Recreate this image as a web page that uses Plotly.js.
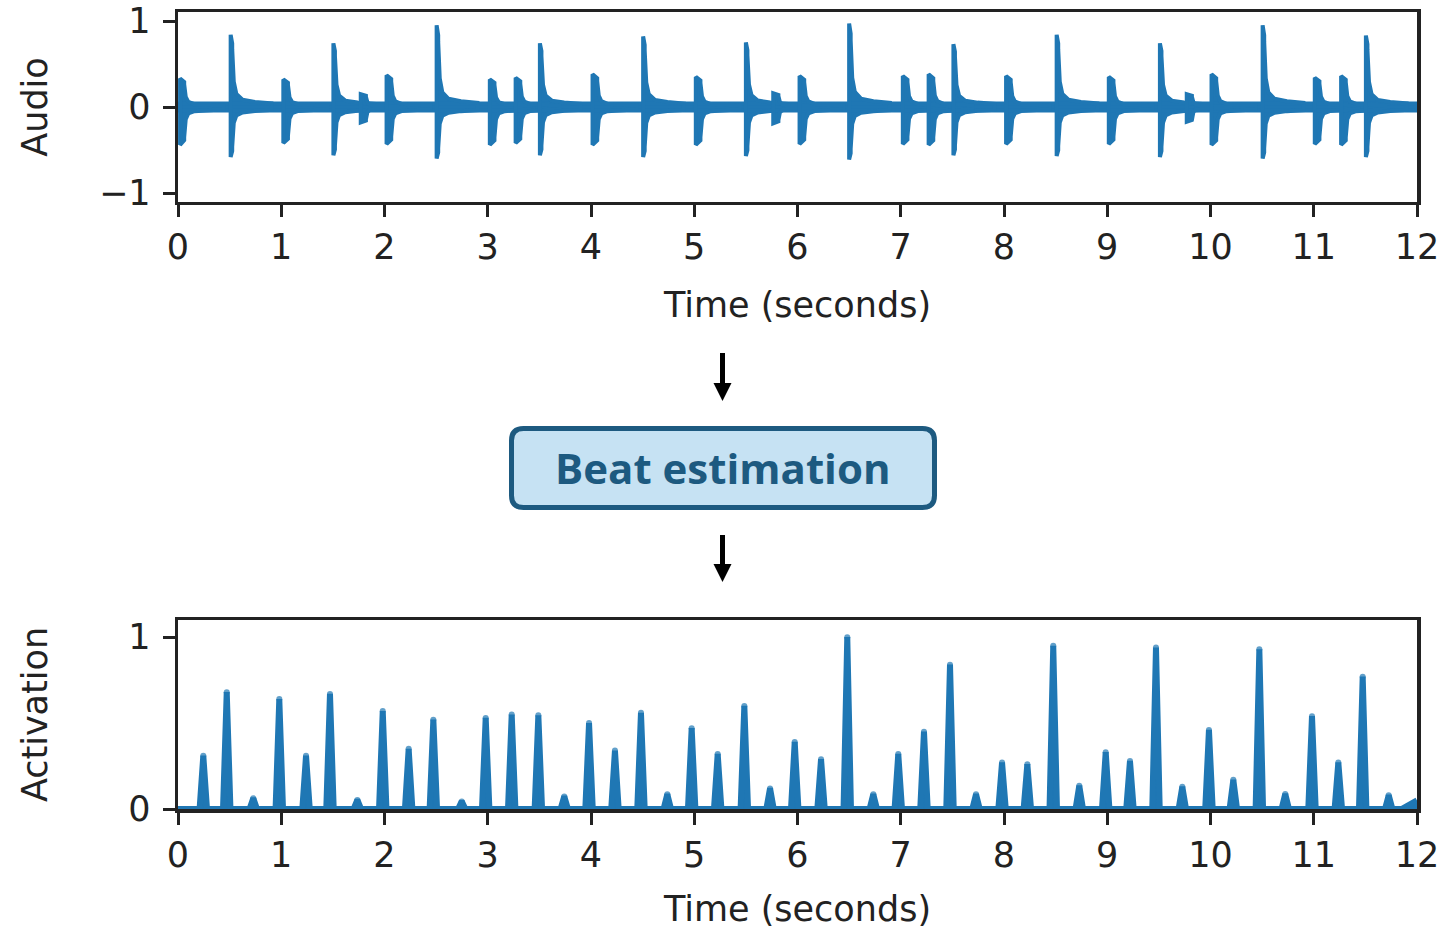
<!DOCTYPE html>
<html>
<head>
<meta charset="utf-8">
<script src="https://cdn.plot.ly/plotly-3.0.1.min.js"></script>
<style>
  html, body { margin: 0; padding: 0; background: #ffffff; }
  #chart { width: 1448px; height: 929px; }
</style>
</head>
<body>
<div id="chart"></div>
<script>
// ---- Audio: drum hits (onset time in s, positive and negative peak amplitude, sustain in s) ----
const onsetTime = [0.02, 0.51, 1.02, 1.505, 1.77, 2.02, 2.505, 3.02, 3.27, 3.505,
                   4.015, 4.505, 5.015, 5.50, 5.765, 6.02, 6.50, 7.02, 7.27, 7.51,
                   8.02, 8.51, 9.015, 9.51, 9.77, 10.01, 10.505, 11.01, 11.265, 11.505];
const peakPos   = [0.33, 0.84, 0.32, 0.74, 0.15, 0.37, 0.95, 0.32, 0.34, 0.74,
                   0.38, 0.82, 0.35, 0.75, 0.16, 0.36, 0.97, 0.36, 0.38, 0.73,
                   0.36, 0.84, 0.35, 0.74, 0.15, 0.38, 0.95, 0.34, 0.36, 0.83];
const peakNeg   = [-0.44, -0.58, -0.42, -0.56, -0.18, -0.43, -0.60, -0.44, -0.42, -0.56,
                   -0.44, -0.58, -0.44, -0.57, -0.19, -0.43, -0.61, -0.43, -0.44, -0.56,
                   -0.43, -0.57, -0.43, -0.58, -0.17, -0.44, -0.60, -0.43, -0.44, -0.58];
const sustain   = [0.04, 0.015, 0.045, 0.015, 0.05, 0.045, 0.015, 0.045, 0.045, 0.015,
                   0.045, 0.015, 0.045, 0.015, 0.05, 0.045, 0.015, 0.045, 0.045, 0.015,
                   0.045, 0.015, 0.045, 0.015, 0.05, 0.045, 0.015, 0.045, 0.045, 0.015];
// level held through the sustain, relative to the peak
const sustainLevel = 0.88;
// decay after the sustain: lag (s) and level relative to the hit's peak
const tailLag  = [0, 0.015, 0.04, 0.10, 0.22, 0.38];
const tailUp   = [0.8, 0.35, 0.18, 0.10, 0.07, 0.05];
const tailDown = [0.8, 0.32, 0.17, 0.11, 0.08, 0.06];
// background level of the recording between hits
const noiseFloor = 0.04;

// ---- Activation: beat-activation peaks (time in s, height) ----
const beatTime = [0.245, 0.472, 0.729, 0.981, 1.240, 1.472, 1.737, 1.983, 2.234, 2.473,
                  2.748, 2.980, 3.232, 3.490, 3.741, 3.981, 4.232, 4.484, 4.739, 4.975,
                  5.227, 5.485, 5.734, 5.973, 6.228, 6.482, 6.734, 6.976, 7.225, 7.477,
                  7.729, 7.981, 8.226, 8.477, 8.729, 8.985, 9.220, 9.472, 9.727, 9.985,
                  10.221, 10.473, 10.724, 10.983, 11.238, 11.474, 11.726];
const beatAct  = [0.31, 0.68, 0.063, 0.64, 0.31, 0.67, 0.053, 0.57, 0.35, 0.52,
                  0.044, 0.53, 0.55, 0.545, 0.073, 0.50, 0.34, 0.56, 0.086, 0.47,
                  0.32, 0.60, 0.12, 0.39, 0.29, 1.00, 0.086, 0.32, 0.45, 0.84,
                  0.086, 0.27, 0.26, 0.95, 0.135, 0.33, 0.28, 0.94, 0.13, 0.46,
                  0.17, 0.93, 0.088, 0.54, 0.27, 0.77, 0.08];
const actEndTime = [11.85, 12.0];
const actEndVal  = [0, 0.05];
const peakHalfWidth = 0.036;

const xTicks = [0, 1, 2, 3, 4, 5, 6, 7, 8, 9, 10, 11, 12];
const audioTicks = [-1, 0, 1];
const audioTickText = ['\u22121', '0', '1'];
const actTicks = [0, 1];

// ---- waveform outline: a band for the floor plus one polygon per hit ----
const wx = [0, 12, 12, 0, 0, null];
const wy = [noiseFloor, noiseFloor, -noiseFloor, -noiseFloor, noiseFloor, null];
onsetTime.forEach((t, i) => {
  const s = t + sustain[i];
  const up = [[t, peakPos[i]], [s, peakPos[i] * sustainLevel]]
    .concat(tailLag.map((l, k) => [s + l, peakPos[i] * tailUp[k]]));
  const dn = [[t, peakNeg[i]], [s, peakNeg[i] * sustainLevel]]
    .concat(tailLag.map((l, k) => [s + l, peakNeg[i] * tailDown[k]])).reverse();
  wx.push(t); wy.push(0);
  up.forEach(p => { wx.push(p[0]); wy.push(p[1]); });
  dn.forEach(p => { wx.push(p[0]); wy.push(p[1]); });
  wx.push(t); wy.push(0);
  wx.push(null); wy.push(null);
});

// ---- activation curve from its peaks; a round cap marks each crest ----
const ax = [0], ay = [0], capSize = [0];
beatTime.forEach((t, i) => {
  ax.push(t - peakHalfWidth, t, t + peakHalfWidth);
  ay.push(0, beatAct[i], 0);
  capSize.push(0, 6, 0);
});
actEndTime.forEach((t, i) => { ax.push(t); ay.push(actEndVal[i]); capSize.push(0); });

const BLUE = '#1f77b4';
const INK = '#222222';
const FONT = 'DejaVu Sans';

const traces = [
  {
    x: wx, y: wy, xaxis: 'x', yaxis: 'y', type: 'scatter', mode: 'lines',
    fill: 'toself', fillcolor: BLUE, connectgaps: false,
    line: { color: BLUE, width: 4, shape: 'linear' }, hoverinfo: 'skip'
  },
  {
    x: ax, y: ay, xaxis: 'x2', yaxis: 'y2', type: 'scatter', mode: 'lines+markers',
    fill: 'tozeroy', fillcolor: BLUE,
    line: { color: BLUE, width: 6, shape: 'linear' },
    marker: { color: BLUE, size: capSize, line: { width: 0 } },
    hoverinfo: 'skip'
  }
];

const W = 1448, H = 929;
const fx = p => p / W;
const fy = p => 1 - p / H;

function axisCommon() {
  return {
    showline: true, linecolor: INK, linewidth: 3.5, mirror: true,
    ticks: 'outside', ticklen: 12, tickwidth: 3, tickcolor: INK,
    showgrid: false, zeroline: false,
    tickfont: { family: FONT, size: 35, color: INK },
    fixedrange: true
  };
}

// rounded rectangle path in paper units
function roundRect(x0, y0, x1, y1, r) {
  const X = v => fx(v).toFixed(5), Y = v => fy(v).toFixed(5);
  return 'M' + X(x0 + r) + ',' + Y(y0) +
    ' L' + X(x1 - r) + ',' + Y(y0) +
    ' Q' + X(x1) + ',' + Y(y0) + ' ' + X(x1) + ',' + Y(y0 + r) +
    ' L' + X(x1) + ',' + Y(y1 - r) +
    ' Q' + X(x1) + ',' + Y(y1) + ' ' + X(x1 - r) + ',' + Y(y1) +
    ' L' + X(x0 + r) + ',' + Y(y1) +
    ' Q' + X(x0) + ',' + Y(y1) + ' ' + X(x0) + ',' + Y(y1 - r) +
    ' L' + X(x0) + ',' + Y(y0 + r) +
    ' Q' + X(x0) + ',' + Y(y0) + ' ' + X(x0 + r) + ',' + Y(y0) + ' Z';
}
function arrowHead(cx, yTop, yTip, half) {
  return 'M' + fx(cx - half) + ',' + fy(yTop) + ' L' + fx(cx + half) + ',' + fy(yTop) +
         ' L' + fx(cx) + ',' + fy(yTip) + ' Z';
}

const shapes = [
  { type: 'line', xref: 'paper', yref: 'paper', x0: fx(722.5), x1: fx(722.5), y0: fy(353), y1: fy(386),
    line: { color: '#000000', width: 5 } },
  { type: 'path', xref: 'paper', yref: 'paper', path: arrowHead(722.5, 383, 401, 9),
    fillcolor: '#000000', line: { width: 0 } },
  { type: 'line', xref: 'paper', yref: 'paper', x0: fx(722.5), x1: fx(722.5), y0: fy(535), y1: fy(567),
    line: { color: '#000000', width: 5 } },
  { type: 'path', xref: 'paper', yref: 'paper', path: arrowHead(722.5, 564, 582, 9),
    fillcolor: '#000000', line: { width: 0 } },
  { type: 'path', xref: 'paper', yref: 'paper', path: roundRect(511.5, 428.5, 934.5, 507.5, 12),
    fillcolor: '#c6e2f3', line: { color: '#1d5a80', width: 5 } }
];

const layout = {
  width: W, height: H,
  margin: { l: 0, r: 0, t: 0, b: 0 },
  paper_bgcolor: '#ffffff', plot_bgcolor: '#ffffff',
  showlegend: false,
  font: { family: FONT, color: INK },
  xaxis: Object.assign(axisCommon(), {
    domain: [fx(178), fx(1417)], range: [0, 12], anchor: 'y',
    tickvals: xTicks, ticktext: xTicks.map(String),
    title: { text: 'Time (seconds)', font: { family: FONT, size: 35, color: INK }, standoff: 27 }
  }),
  yaxis: Object.assign(axisCommon(), {
    domain: [fy(201.6), fy(12.4)], range: [-1.1, 1.1], anchor: 'x',
    tickvals: audioTicks, ticktext: audioTickText, ticklabelstandoff: 5,
    title: { text: 'Audio', font: { family: FONT, size: 35, color: INK }, standoff: 41 }
  }),
  xaxis2: Object.assign(axisCommon(), {
    domain: [fx(178), fx(1417)], range: [0, 12], anchor: 'y2',
    tickvals: xTicks, ticktext: xTicks.map(String),
    title: { text: 'Time (seconds)', font: { family: FONT, size: 35, color: INK }, standoff: 25 }
  }),
  yaxis2: Object.assign(axisCommon(), {
    domain: [fy(809), fy(620)], range: [0, 1.1], anchor: 'x2',
    tickvals: actTicks, ticktext: actTicks.map(String), ticklabelstandoff: 5,
    title: { text: 'Activation', font: { family: FONT, size: 35, color: INK }, standoff: 71 }
  }),
  shapes: shapes,
  annotations: [
    { xref: 'paper', yref: 'paper', x: fx(722.5), y: fy(467), xanchor: 'center', yanchor: 'middle',
      text: 'Beat estimation', showarrow: false,
      font: { family: 'Open Sans', size: 42, color: '#1d5a80', weight: 'bold' } }
  ]
};

Plotly.newPlot('chart', traces, layout, { displayModeBar: false, staticPlot: true });
</script>
</body>
</html>
